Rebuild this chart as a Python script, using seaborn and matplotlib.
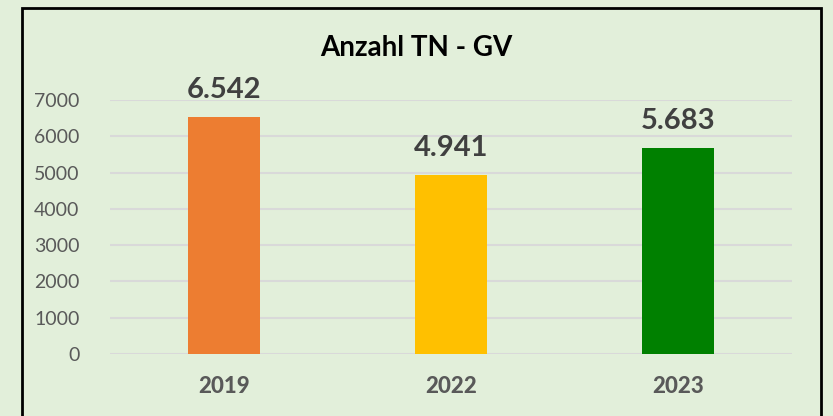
import matplotlib
matplotlib.use("Agg")
import matplotlib.pyplot as plt
import seaborn as sns
import pandas as pd
from matplotlib.patches import Rectangle
from matplotlib.font_manager import FontProperties

years = ["2019", "2022", "2023"]
teilnehmer = [6542, 4941, 5683]
bar_colors = ["#ED7D31", "#FFC000", "#008000"]
labels = ["6.542", "4.941", "5.683"]
title = "Anzahl TN - GV"

bg = "#E2EFDA"
sns.set_theme(style="white")
plt.rcParams["font.family"] = ["Lato", "DejaVu Sans"]

df = pd.DataFrame({"Jahr": years, "TN": teilnehmer})

fig = plt.figure(figsize=(8.33, 4.16), dpi=100, facecolor=bg)
ax = fig.add_axes([110 / 833, 1 - 354 / 416, 682 / 833, 254 / 416])
ax.set_facecolor(bg)

sns.barplot(data=df, x="Jahr", y="TN", hue="Jahr", palette=bar_colors,
            width=0.317, legend=False, ax=ax, saturation=1, linewidth=0,
            zorder=3)

ax.set_ylim(0, 7000)
ax.set_yticks(range(0, 7001, 1000))
ax.grid(axis="y", color="#D9D9D9", linewidth=1.5, zorder=0)
ax.set_axisbelow(True)
for s in ax.spines.values():
    s.set_visible(False)
ax.set_xlabel("")
ax.set_ylabel("")
ax.tick_params(axis="y", labelsize=14, labelcolor="#595959", length=0, pad=22)
ax.tick_params(axis="x", length=0, pad=16, labelcolor="#595959")
ax.set_xticks(range(len(years)))
ax.set_xticklabels(years)

for cont, lab in zip(ax.containers, labels):
    ax.bar_label(cont, labels=[lab], padding=10, fontsize=21, fontweight="bold",
                 color="#404040")

fig.text(0.5, 1 - 48 / 416, title, ha="center", va="center", fontsize=20,
         fontweight="bold", color="black")

fig.patches.append(Rectangle((22 / 833, -0.1), (821 - 22) / 833, 1.1 - 8 / 416,
                             transform=fig.transFigure, fill=False,
                             edgecolor="black", linewidth=2))

fig.canvas.draw()
xfont = FontProperties(family=["Lato", "DejaVu Sans"], weight=900, size=16)
for t in ax.get_xticklabels():
    t.set_fontproperties(xfont)

fig.savefig("out.png", dpi=100, facecolor=bg)
